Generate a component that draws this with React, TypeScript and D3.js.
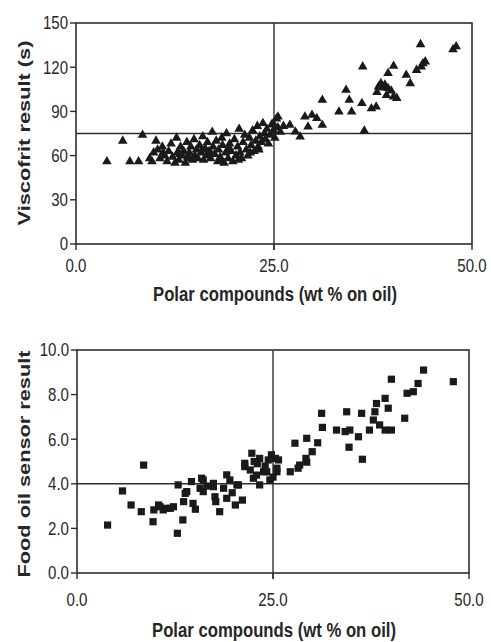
import React from "react";
import * as d3 from "d3";

// ---------- data ----------
const viscofritPoints: [number, number][] = [
  [3.9, 56], [5.9, 70], [6.8, 56], [7.9, 56], [8.4, 74], [9.3, 58], [9.6, 56], [9.8, 62], [10.1, 70],
  [10.3, 64], [10.6, 58], [10.9, 66], [11.2, 60], [11.5, 56], [11.7, 63], [12.0, 68], [12.2, 59], [12.5, 55], [12.7, 72], [12.8, 62],
  [13.0, 57], [13.2, 66], [13.4, 60], [13.6, 63], [13.8, 55], [14.0, 69], [14.1, 59], [14.3, 62], [14.5, 66], [14.7, 57], [14.9, 71], [15.0, 60], [15.2, 64],
  [15.4, 58], [15.6, 67], [15.8, 62], [16.0, 73], [16.1, 57], [16.3, 65], [16.5, 60], [16.6, 69], [16.8, 63], [17.0, 58], [17.2, 76], [17.3, 66],
  [17.5, 61], [17.7, 70], [17.9, 56], [18.0, 64], [18.2, 59], [18.4, 72], [18.5, 67], [18.7, 55], [18.9, 62], [19.0, 75], [19.2, 58], [19.4, 68],
  [19.6, 63], [19.8, 56], [20.0, 71], [20.2, 60], [20.4, 66], [20.6, 78], [20.7, 62], [20.9, 58], [21.1, 69], [21.3, 74], [21.5, 64], [21.7, 60],
  [21.9, 72], [22.1, 67], [22.3, 77], [22.5, 63], [22.7, 70], [22.9, 80], [23.0, 66], [23.2, 73], [23.4, 69], [23.6, 82], [23.8, 75], [23.9, 71],
  [24.1, 78], [24.3, 68], [24.5, 74], [24.7, 81], [24.9, 77], [25.1, 72], [25.3, 85], [25.5, 79], [25.8, 76], [26.2, 80],
  [11.0, 62], [13.1, 61], [14.4, 58], [15.9, 64], [17.1, 61], [18.3, 57], [19.3, 65], [20.5, 57], [22.0, 62], [23.1, 64],
  [24.9, 81.9], [25.5, 86.4], [27.0, 80.8], [27.7, 76.2], [28.3, 72.8], [28.9, 86.4], [29.3, 79.6], [29.8, 87.6], [30.4, 85.3],
  [31.1, 80.8], [31.1, 97.7], [33.2, 89.8], [34.1, 104.5], [34.5, 97.7], [34.8, 89.8], [36.1, 95.5], [36.2, 120.4], [36.4, 76.9],
  [37.3, 92], [37.9, 93.2], [38.2, 106.8], [38.8, 106], [39.2, 101], [39.4, 105.7], [39.4, 115.9], [40.1, 100], [40.1, 120.8],
  [38.0, 103], [39.8, 104], [40.5, 99], [38.5, 109], [39.0, 108],
  [41.7, 114.7], [42.2, 109], [43.0, 118], [43.6, 120.4], [43.8, 122.5], [44.1, 123.8], [43.5, 135.5], [47.6, 132], [48.0, 134],
];

const sensorPoints: [number, number][] = [
  [3.9, 2.15], [5.8, 3.68], [6.9, 3.05], [8.2, 2.75], [8.5, 4.84], [9.7, 2.3], [9.8, 2.83], [10.4, 3.05], [10.6, 2.97],
  [11.0, 2.83], [11.3, 2.9], [11.9, 2.9], [12.3, 2.97], [12.8, 1.78], [12.9, 3.95], [13.5, 2.38], [13.6, 3.2], [13.8, 3.57],
  [14.0, 3.65], [14.6, 4.1], [14.8, 3.12], [15.1, 2.86], [15.7, 3.8], [15.9, 4.25], [16.1, 3.65], [16.1, 4.17], [16.6, 3.9],
  [17.4, 4.02], [17.4, 3.87], [17.6, 3.42], [17.7, 3.2], [18.2, 2.75], [18.7, 3.8], [19.1, 4.4], [19.1, 3.35], [19.5, 4.17],
  [19.8, 3.6], [20.2, 3.05], [20.4, 3.95], [20.6, 3.95], [21.1, 3.27], [21.4, 4.77], [21.4, 4.92], [22.1, 4.62], [22.3, 5.37],
  [22.5, 4.25], [22.9, 4.39], [23.3, 3.95], [23.3, 5.14], [23.8, 4.54], [24.2, 4.54], [24.4, 5.07], [24.6, 4.17], [25.3, 5.14],
  [25.5, 4.54], [25.7, 5.07], [25.5, 4.7], [23.0, 4.9], [24.0, 4.8], [25.0, 4.3], [24.8, 5.3], [22.6, 5.0],
  [27.2, 4.54], [27.8, 5.82], [28.2, 4.7], [28.4, 4.84], [29.2, 5.14], [29.3, 6.04], [29.3, 4.97], [30.0, 5.44], [30.7, 5.84],
  [31.2, 7.16], [31.3, 6.53], [33.1, 6.41], [34.2, 6.34], [34.8, 6.41], [34.4, 7.23], [34.7, 5.64], [35.9, 6.11], [36.3, 7.16],
  [36.4, 5.1], [37.3, 6.41], [37.8, 6.86], [38.0, 7.23], [38.2, 7.6], [38.6, 6.64], [39.3, 7.83], [39.3, 6.41], [39.7, 7.39],
  [40.1, 6.41], [40.1, 8.69], [41.8, 6.94], [42.1, 8.06], [42.9, 8.13], [43.5, 8.5], [44.2, 9.1], [48.0, 8.58],
];

const xTicks = [0, 25, 50];
const topYTicks = [0, 30, 60, 90, 120, 150];
const bottomYTicks = [0, 2, 4, 6, 8, 10];
const topRef = { x: 25, y: 75 };
const bottomRef = { x: 25, y: 4 };

const xTitle = "Polar compounds (wt % on oil)";
const topYTitle = "Viscofrit result (s)";
const bottomYTitle = "Food oil sensor result";

// ---------- styles ----------
const FONT = "'Liberation Sans', Arial, sans-serif";
const LINE = "#2e2e2e";
const TEXT = "#262626";
const MARK = "#1a1a1a";

type PanelProps = {
  points: [number, number][];
  yTicks: number[];
  yDomain: [number, number];
  yFmt: (v: number) => string;
  ref: { x: number; y: number };
  left: number; right: number; top: number; bottom: number;
  xLabelOffset: number;
  xTitleY: number;
  yTitle: string;
  yTitleCenter: number;
  yTitleLen: number;
  symbol: d3.SymbolType;
  symbolSize: number;
};

function Panel(p: PanelProps) {
  const x = d3.scaleLinear().domain([0, 50]).range([p.left, p.right]);
  const y = d3.scaleLinear().domain(p.yDomain).range([p.bottom, p.top]);
  const sym = d3.symbol().type(p.symbol).size(p.symbolSize)();
  const tick = 6;
  return (
    <g>
      <rect x={p.left} y={p.top} width={p.right - p.left} height={p.bottom - p.top}
        fill="none" stroke={LINE} strokeWidth={1.6} />
      <line x1={x(p.ref.x)} x2={x(p.ref.x)} y1={p.top} y2={p.bottom + tick} stroke={LINE} strokeWidth={1.4} />
      <line x1={p.left} x2={p.right} y1={y(p.ref.y)} y2={y(p.ref.y)} stroke={LINE} strokeWidth={1.4} />
      {p.yTicks.map((t) => (
        <g key={"y" + t}>
          <line x1={p.left - tick} x2={p.left} y1={y(t)} y2={y(t)} stroke={LINE} strokeWidth={1.4} />
          <text transform={`translate(${p.left - tick - 2},${y(t)}) scale(0.86,1)`} dy="0.36em" textAnchor="end"
            fontFamily={FONT} fontSize={17.5} fill={TEXT}>{p.yFmt(t)}</text>
        </g>
      ))}
      {xTicks.map((t) => (
        <g key={"x" + t}>
          <line x1={x(t)} x2={x(t)} y1={p.bottom} y2={p.bottom + tick} stroke={LINE} strokeWidth={1.4} />
          <text transform={`translate(${x(t)},${p.bottom + p.xLabelOffset}) scale(0.86,1)`} textAnchor="middle"
            fontFamily={FONT} fontSize={17.5} fill={TEXT}>{d3.format(".1f")(t)}</text>
        </g>
      ))}
      {p.points.map((d, i) => (
        <path key={i} d={sym || ""} transform={`translate(${x(d[0])},${y(d[1])})`} fill={MARK} />
      ))}
      <text x={(p.left + p.right) / 2 + 1} y={p.xTitleY} textAnchor="middle" fontFamily={FONT}
        fontWeight="bold" fontSize={19.5} fill={TEXT} textLength={244} lengthAdjust="spacingAndGlyphs">{xTitle}</text>
      <text transform={`translate(30,${p.yTitleCenter}) rotate(-90)`} textAnchor="middle" fontFamily={FONT}
        fontWeight="bold" fontSize={17} fill={TEXT} textLength={p.yTitleLen} lengthAdjust="spacingAndGlyphs">{p.yTitle}</text>
    </g>
  );
}

export default function App() {
  return (
    <svg width={491} height={642} style={{ position: "absolute", left: 0, top: 0, background: "#fff" }}>
      <rect width={491} height={642} fill="#fff" />
      <Panel points={viscofritPoints} yTicks={topYTicks} yDomain={[0, 150]} yFmt={(v) => String(v)}
        ref={topRef} left={76} right={472} top={23} bottom={244} xLabelOffset={28} xTitleY={301}
        yTitle={topYTitle} yTitleCenter={133} yTitleLen={185} symbol={d3.symbolTriangle} symbolSize={40} />
      <Panel points={sensorPoints} yTicks={bottomYTicks} yDomain={[0, 10]} yFmt={d3.format(".1f")}
        ref={bottomRef} left={77} right={469} top={350} bottom={573} xLabelOffset={33} xTitleY={637}
        yTitle={bottomYTitle} yTitleCenter={464} yTitleLen={227} symbol={d3.symbolSquare} symbolSize={52} />
    </svg>
  );
}
